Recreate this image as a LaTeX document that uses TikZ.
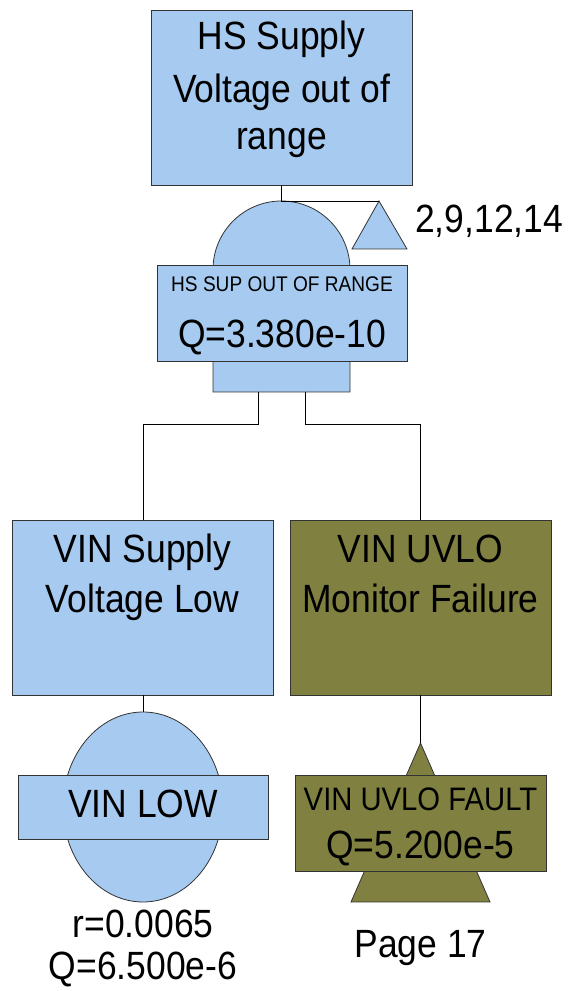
\documentclass[tikz,border=0pt]{standalone}
\usepackage{fontspec}
\setmainfont[FakeStretch=0.9]{Liberation Sans}
\definecolor{evblue}{RGB}{166,202,240}
\definecolor{evolive}{RGB}{128,128,64}
\tikzset{
  box/.style={draw=black!80,line width=0.8pt,inner sep=0pt},
  bluebox/.style={box,fill=evblue},
  olivebox/.style={box,fill=evolive},
  gateshape/.style={draw=black!80,line width=0.8pt},
  wire/.style={draw=black,line width=0.8pt},
  big/.style={inner sep=0pt,anchor=base,font=\fontsize{39.4}{46}\selectfont},
  mid/.style={inner sep=0pt,anchor=base,font=\fontsize{32.5}{38}\selectfont},
  small/.style={inner sep=0pt,anchor=base,font=\fontsize{21.2}{25}\selectfont},
}
\begin{document}
\begin{tikzpicture}[x=1pt,y=1pt]
\useasboundingbox (0,0) rectangle (569,991);
% top event box
\node[bluebox,minimum width=261pt,minimum height=175pt] (top) at (281.5,893.5) {};
\node[big] (t1) at (281.5,941.7) {HS Supply};
\node[big] (t2) at (281.5,888.3) {Voltage out of};
\node[big] (t3) at (281.5,841) {range};
% AND gate
\coordinate (gtop) at (281.5,790);
\draw[gateshape,fill=evblue] (213,599) -- (213,721.5) arc[start angle=180,end angle=0,radius=68.5] -- (350,599) -- cycle;
\coordinate (gl) at (258,599);
\coordinate (gr) at (305,599);
% transfer triangle
\draw[gateshape,fill=evblue] (379,790) -- (407,742) -- (352,742) -- cycle;
\coordinate (tri) at (379,790);
\node[big,anchor=base west] (xfer) at (415,758) {2,9,12,14};
% gate label box
\node[bluebox,minimum width=250pt,minimum height=96pt] (glabel) at (282,678) {};
\node[small] (g1) at (282,699.5) {HS SUP OUT OF RANGE};
\node[big] (g2) at (282,643.5) {Q=3.380e-10};
% connectors top
\draw[wire] (top.south) -- (gtop) -- (tri);
% children
\node[bluebox,minimum width=261pt,minimum height=175pt] (left) at (142.5,383.5) {};
\node[big] (l1) at (142.5,428) {VIN Supply};
\node[big] (l2) at (142.5,378.7) {Voltage Low};
\node[olivebox,minimum width=261pt,minimum height=175pt] (right) at (420.5,383.5) {};
\node[big] (r1) at (420.5,428) {VIN UVLO};
\node[big] (r2) at (420.5,378.7) {Monitor Failure};
\draw[wire] (gl) |- (143,567) -- (143,471);
\draw[wire] (gr) |- (420.5,567) -- (right.north);
% basic event
\draw[gateshape,fill=evblue] (143,184) ellipse[x radius=80,y radius=95];
\coordinate (ell) at (143,279);
\draw[wire] (left.south -| ell) -- (ell);
\node[bluebox,minimum width=250pt,minimum height=64pt] (vl) at (143,184) {};
\node[big] (vl1) at (143,173) {VIN LOW};
\node[big] (rv) at (143,53) {r=0.0065};
\node[big] (qv) at (143,11) {Q=6.500e-6};
% undeveloped/transfer
\draw[gateshape,fill=evolive] (420.5,248) -- (490,89) -- (351,89) -- cycle;
\coordinate (tri2) at (420.5,248);
\draw[wire] (right.south) -- (tri2);
\node[olivebox,minimum width=251pt,minimum height=96pt] (uv) at (420.5,168) {};
\node[mid] (uv1) at (420.5,180) {VIN UVLO FAULT};
\node[big] (uv2) at (420.5,132) {Q=5.200e-5};
\node[big] (pg) at (420.5,34) {Page 17};
\end{tikzpicture}
\end{document}
